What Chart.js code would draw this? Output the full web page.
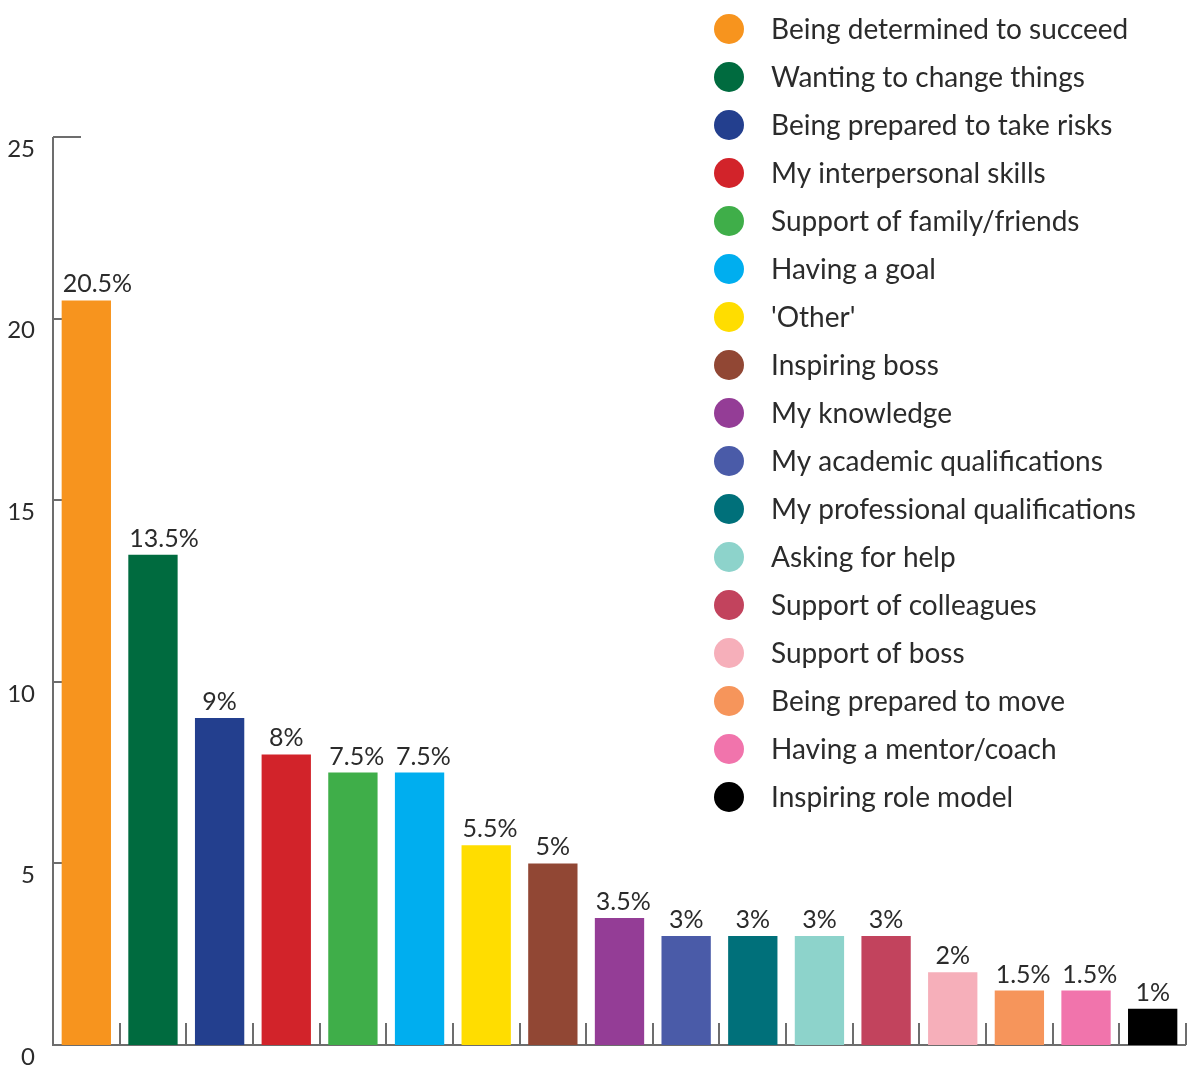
<!DOCTYPE html>
<html>
<head>
<meta charset="utf-8">
<script src="https://cdn.jsdelivr.net/npm/chart.js@4"></script>
<style>
  html, body { margin: 0; padding: 0; background: #fff; }
  #wrap { width: 1190px; height: 1065px; }
</style>
</head>
<body>
<div id="wrap"><canvas id="myChart" width="1190" height="1065"></canvas></div>
<script>
const categories = [
    'Being determined to succeed', 'Wanting to change things', 'Being prepared to take risks',
    'My interpersonal skills', 'Support of family/friends', 'Having a goal', "'Other'",
    'Inspiring boss', 'My knowledge', 'My academic qualifications', 'My professional qualifications',
    'Asking for help', 'Support of colleagues', 'Support of boss', 'Being prepared to move',
    'Having a mentor/coach', 'Inspiring role model'
];
const values = [20.5, 13.5, 9, 8, 7.5, 7.5, 5.5, 5, 3.5, 3, 3, 3, 3, 2, 1.5, 1.5, 1];
const barColors = [
    '#F7941E', '#006B3F', '#233F8E', '#D2232A', '#3FAE49', '#00AEEF', '#FFDD00',
    '#914734', '#943D96', '#4A5BA8', '#00707A', '#8DD3CB', '#C2435D', '#F6AFBA',
    '#F6955B', '#F174AC', '#000000'
];
const yTicks = [0, 5, 10, 15, 20, 25];

const FONT = 'Lato, "Open Sans", sans-serif';
const TEXT = '#2b2b2b';
const AXIS = '#6d6d6d';

// axis lines with inward ticks, drawn under the bars
const axesPlugin = {
    id: 'axes',
    beforeDatasetsDraw(chart) {
        const c = chart.ctx, a = chart.chartArea;
        const xs = chart.scales.x, ys = chart.scales.y;
        const half = (xs.getPixelForValue(1) - xs.getPixelForValue(0)) / 2;
        c.save();
        c.strokeStyle = AXIS;
        c.lineWidth = 2;
        c.beginPath();
        c.moveTo(a.left, a.top);
        c.lineTo(a.left, a.bottom);
        c.lineTo(a.right, a.bottom);
        yTicks.forEach(v => {
            if (v === 0) return;
            const y = Math.round(ys.getPixelForValue(v));
            c.moveTo(a.left, y);
            c.lineTo(a.left + 28, y);
        });
        for (let i = 0; i < categories.length; i++) {
            const x = Math.round(xs.getPixelForValue(i) + half);
            c.moveTo(x, a.bottom);
            c.lineTo(x, a.bottom - 22);
        }
        c.stroke();
        c.restore();
    }
};

// percentage labels above bars
const labelPlugin = {
    id: 'barLabels',
    afterDatasetsDraw(chart) {
        const c = chart.ctx;
        const meta = chart.getDatasetMeta(0);
        c.save();
        c.font = '25px ' + FONT;
        c.fillStyle = TEXT;
        c.textBaseline = 'alphabetic';
        c.textAlign = 'left';
        meta.data.forEach((bar, i) => {
            const txt = values[i] + '%';
            const w = c.measureText(txt).width;
            const left = bar.x - bar.width / 2;
            let x = bar.x - w / 2;
            if (w > bar.width) x = left + 1;
            c.fillText(txt, x, bar.y - 8);
        });
        c.restore();
    }
};

// legend at top right
const legendPlugin = {
    id: 'sideLegend',
    afterDraw(chart) {
        const c = chart.ctx;
        c.save();
        c.font = '28px ' + FONT;
        c.textBaseline = 'middle';
        c.textAlign = 'left';
        categories.forEach((name, i) => {
            const cy = 29 + i * 48;
            c.fillStyle = barColors[i];
            c.beginPath();
            c.arc(729, cy, 15, 0, Math.PI * 2);
            c.fill();
            c.fillStyle = TEXT;
            c.fillText(name, 771, cy + 1);
        });
        c.restore();
    }
};

const ctx = document.getElementById('myChart');
const myChart = new Chart(ctx, {
    type: 'bar',
    data: {
        labels: categories,
        datasets: [{
            data: values,
            backgroundColor: barColors,
            borderWidth: 0,
            barPercentage: 0.74,
            categoryPercentage: 1
        }]
    },
    options: {
        responsive: false,
        animation: false,
        layout: { padding: { top: 137, right: 4, bottom: 20, left: 0 } },
        plugins: {
            legend: { display: false },
            tooltip: { enabled: false }
        },
        scales: {
            x: {
                display: false
            },
            y: {
                min: 0,
                max: 25,
                afterFit: scale => {
                    scale.width = 53;
                    scale.paddingTop = 0;
                    scale.paddingBottom = 0;
                },
                afterBuildTicks: scale => { scale.ticks = yTicks.map(v => ({ value: v })); },
                grid: { display: false, drawTicks: false },
                border: { display: false },
                ticks: {
                    padding: 18,
                    labelOffset: 12,
                    color: TEXT,
                    font: { family: FONT, size: 24 }
                }
            }
        }
    },
    plugins: [axesPlugin, labelPlugin, legendPlugin]
});
</script>
</body>
</html>
